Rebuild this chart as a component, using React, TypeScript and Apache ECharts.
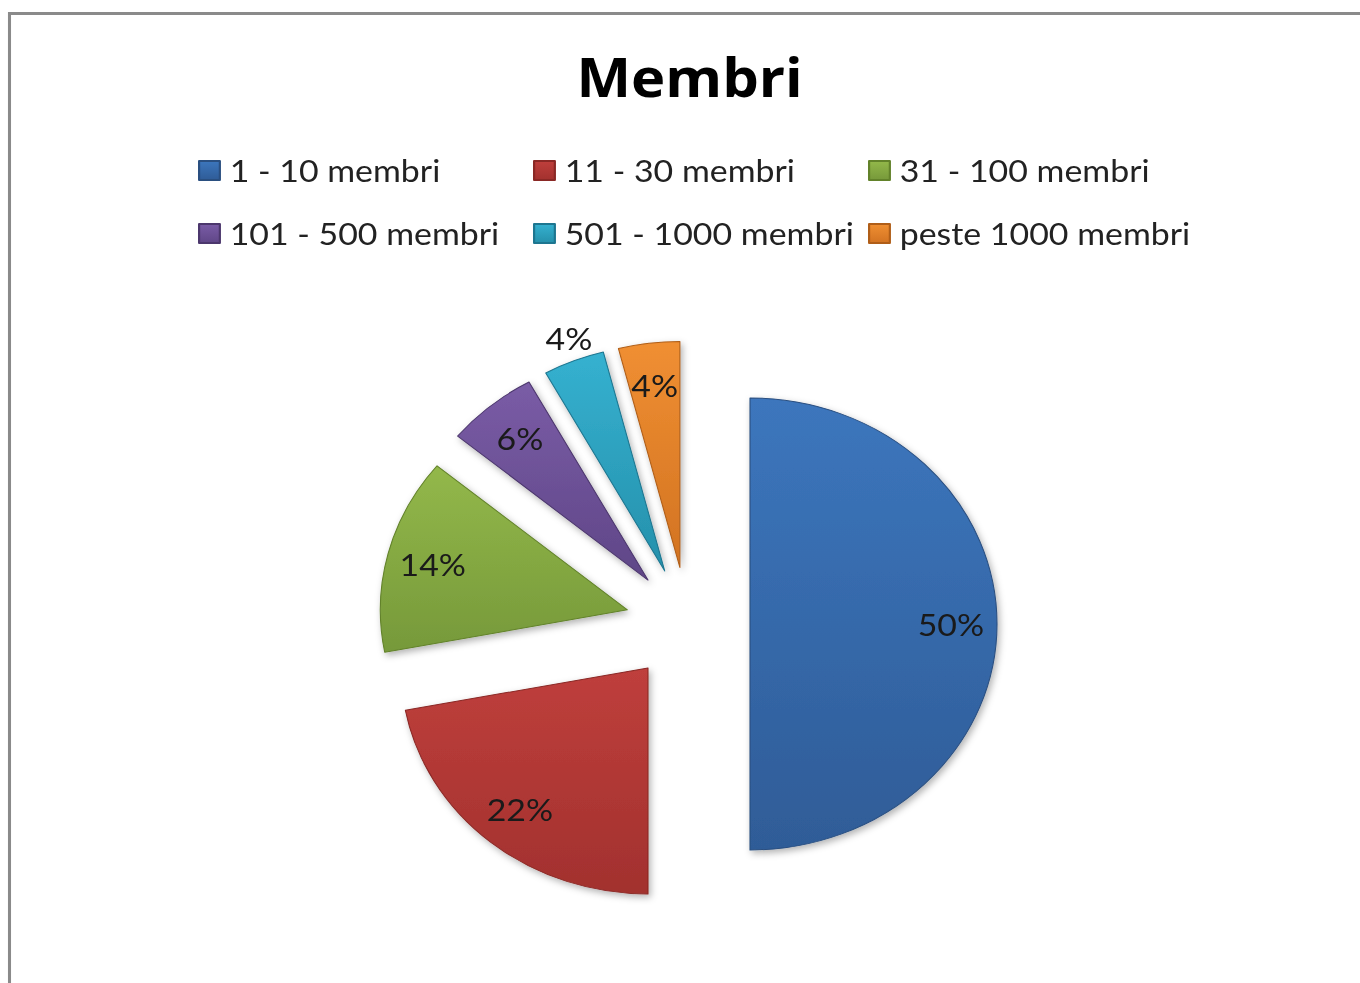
import React, { useEffect, useRef } from "react";
import * as echarts from "echarts";

const categories = [
  "1 - 10 membri",
  "11 - 30 membri",
  "31 - 100 membri",
  "101 - 500 membri",
  "501 - 1000 membri",
  "peste 1000 membri",
];
const values = [50, 22, 14, 6, 4, 4];
const topColors = ["#3c76bd", "#bf3f3c", "#93b84a", "#7a5ca6", "#35b1d0", "#f08f32"];
const bottomColors = ["#2f5c97", "#a2312e", "#76993a", "#5f4687", "#2590ab", "#d27322"];
const borderColors = ["#2a4f80", "#8a2825", "#62822a", "#4c376d", "#1d7690", "#b05e18"];
const outsideLabel = [false, false, false, false, true, false];

const LEGEND_COLS = [
  [0, 3],
  [1, 4],
  [2, 5],
];

// Horizontal stretch of the original picture (pie is wider than tall)
const SX = 1.093;
const OX = 687.7;

export default function App() {
  const ref = useRef<HTMLDivElement>(null);
  useEffect(() => {
    if (!ref.current) return;
    const chart = echarts.init(ref.current, undefined, { renderer: "svg" });
    const R = 226;
    const center = [OX, 624];
    const font = "Lato, 'Open Sans', sans-serif";

    const styleFor = (i: number) => ({
      color: new echarts.graphic.LinearGradient(0, 0, 0, 1, [
        { offset: 0, color: topColors[i] },
        { offset: 1, color: bottomColors[i] },
      ]),
      borderColor: borderColors[i],
      borderWidth: 1,
      shadowBlur: 7,
      shadowOffsetX: 2,
      shadowOffsetY: 3,
      shadowColor: "rgba(0,0,0,0.3)",
    });

    const sliceData = categories.map((name, i) => ({
      name,
      value: values[i],
      selected: true,
      itemStyle: styleFor(i),
      select: { itemStyle: styleFor(i) },
    }));

    const labelData = categories.map((name, i) => ({
      name,
      value: values[i],
      selected: true,
      label: outsideLabel[i]
        ? { position: "outside" as const }
        : { position: "inside" as const },
      labelLine: { show: false, length: 22, length2: 0 },
    }));

    const toChartX = (x: number) => OX + (x - OX) / SX;

    const legends = LEGEND_COLS.map((col, k) => ({
      orient: "vertical" as const,
      left: toChartX([198, 533, 868][k]),
      top: 155,
      padding: 0,
      itemWidth: 19,
      itemHeight: 19,
      itemGap: 32,
      icon: "rect",
      selectedMode: false,
      data: col.map((i) => categories[i]),
      textStyle: {
        fontFamily: font,
        fontSize: 31,
        color: "#222",
        lineHeight: 30,
        padding: [0, 0, 0, 4],
      },
    }));

    chart.setOption({
      animation: false,
      backgroundColor: "#ffffff",
      title: {
        text: "Membri",
        left: toChartX(571),
        top: 45,
        padding: 5,
        textStyle: {
          fontFamily: "'Open Sans', sans-serif",
          fontSize: 53,
          fontWeight: "bold",
          color: "#000",
        },
      },
      legend: legends,
      graphic: [
        {
          type: "rect",
          shape: { x: toChartX(9.5), y: 13.5, width: 1500, height: 1000 },
          style: { fill: "none", stroke: "#8a8a8a", lineWidth: 2.8 },
          silent: true,
        },
      ],
      series: [
        {
          type: "pie",
          center,
          radius: [0, R],
          startAngle: 90,
          clockwise: true,
          selectedMode: "multiple",
          selectedOffset: 57,
          avoidLabelOverlap: false,
          label: { show: false },
          labelLine: { show: false },
          emphasis: { disabled: true },
          data: sliceData,
        },
        {
          type: "pie",
          center,
          radius: [R * 0.6, R],
          startAngle: 90,
          clockwise: true,
          selectedMode: "multiple",
          selectedOffset: 57,
          avoidLabelOverlap: false,
          silent: true,
          itemStyle: { color: "rgba(0,0,0,0)" },
          select: { itemStyle: { color: "rgba(0,0,0,0)", borderWidth: 0 } },
          emphasis: { disabled: true },
          label: {
            show: true,
            formatter: "{c}%",
            fontFamily: font,
            fontSize: 31,
            color: "#1a1a1a",
          },
          labelLayout: (p: any) =>
            outsideLabel[p.dataIndex] ? { dx: 30, dy: -2 } : {},
          data: labelData,
        },
      ],
    });
    return () => chart.dispose();
  }, []);
  return (
    <div
      style={{
        position: "fixed",
        left: 0,
        top: 0,
        width: 1360,
        height: 983,
        overflow: "hidden",
        background: "#fff",
      }}
    >
      <div
        ref={ref}
        style={{
          position: "absolute",
          left: 0,
          top: 0,
          width: 1360,
          height: 983,
          transform: `scaleX(${SX})`,
          transformOrigin: `${OX}px 0px`,
        }}
      />
    </div>
  );
}
